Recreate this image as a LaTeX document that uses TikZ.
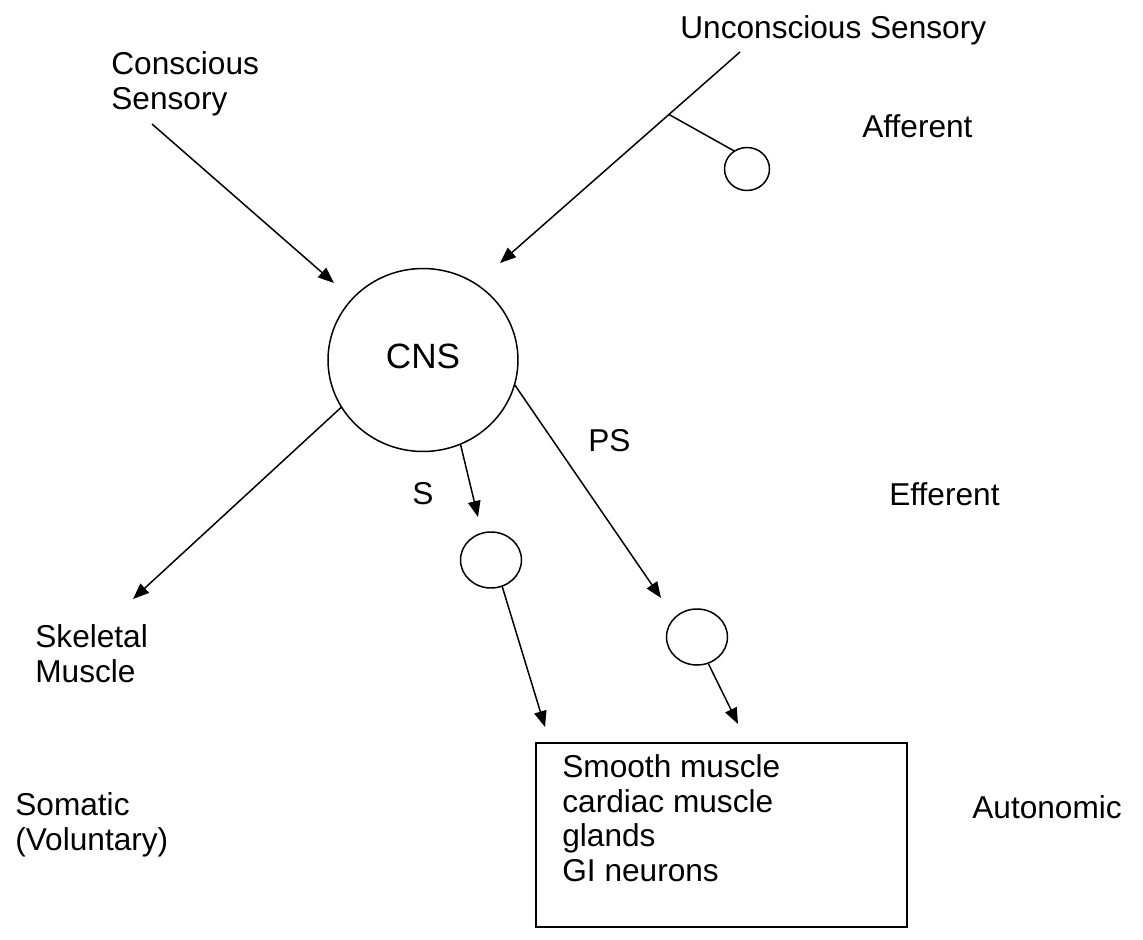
\documentclass[tikz,border=0pt]{standalone}
\usepackage{fontspec}
\setmainfont{Liberation Sans}
\usetikzlibrary{arrows.meta,shapes.geometric,calc}

\begin{document}
\begin{tikzpicture}%
        [x=0.02cm, y=-0.02cm,
        edge/.style={line width=0.85pt, -{Triangle[length=0.32cm,width=0.25cm]}},
        link/.style={line width=0.85pt},
        soma/.style={ellipse, draw, line width=0.85pt, inner sep=0pt, outer sep=0pt},
        target/.style={rectangle, draw, line width=0.85pt, inner sep=0pt, outer sep=0pt, minimum width=7.42cm, minimum height=3.68cm},
        lbl/.style={inner sep=0pt, align=left, font=\fontsize{18}{19.6}\selectfont}]
    %
    \useasboundingbox (0,0) rectangle (1143,940);
    %
    %% Drawing the labels (base anchor sits on the last line)
    \node[lbl, anchor=base west] (conscious) at (111,109) {Conscious\\Sensory};
    \node[lbl, anchor=base west] (unconscious) at (680,38) {Unconscious Sensory};
    \node[lbl, anchor=base west] (afferent) at (862,137) {Afferent};
    \node[lbl, anchor=base west] (efferent) at (889,505) {Efferent};
    \node[lbl, anchor=base west] (skeletal) at (35,682) {Skeletal\\Muscle};
    \node[lbl, anchor=base west] (somatic) at (15,850) {Somatic\\(Voluntary)};
    \node[lbl, anchor=base west] (autonomic) at (972,818) {Autonomic};
    \node[lbl, anchor=base west] (slabel) at (412,504) {S};
    \node[lbl, anchor=base west] (pslabel) at (588,451) {PS};
    %
    %% Drawing the cell bodies
    \node[soma, minimum width=3.8cm, minimum height=3.66cm, font=\fontsize{20}{22}\selectfont] (cns) at (423,360) {CNS\vphantom{g}};
    \node[soma, minimum width=0.9cm, minimum height=0.86cm] (dgang) at (747,169) {};
    \node[soma, minimum width=1.22cm, minimum height=1.12cm] (sgang) at (491,560) {};
    \node[soma, minimum width=1.22cm, minimum height=1.12cm] (pgang) at (697,637) {};
    %
    %% Drawing the target box
    \node[target, anchor=north west] (box) at (536,743) {};
    \node[lbl, anchor=base west] (organs) at (562,881) {Smooth muscle\\cardiac muscle\\glands\\GI neurons};
    %
    %% Coordinates of the free ends
    \coordinate (cs-start) at (152,124);
    \coordinate (cs-tip) at (334,283);
    \coordinate (us-start) at (740,52);
    \coordinate (us-tip) at (500,263);
    \coordinate (us-branch) at ($(us-start)!0.296!(us-tip)$);
    \coordinate (sk-tip) at (133,599);
    \coordinate (s-tip) at (478,517);
    \coordinate (ps-tip) at (661,598);
    \coordinate (s-out) at (545,727);
    \coordinate (ps-out) at (738,724);
    %
    %% Drawing the connections
    \draw[edge] (cs-start) -- (cs-tip);
    \draw[edge] (us-start) -- (us-tip);
    \draw[link] (us-branch) -- (dgang.125);
    \draw[edge] (cns.210) -- (sk-tip);
    \draw[edge] (cns.-66) -- (s-tip);
    \draw[edge] (cns.-15) -- (ps-tip);
    \draw[edge] (sgang.-67) -- (s-out);
    \draw[edge] (pgang.-67) -- (ps-out);
    %
\end{tikzpicture}
\end{document}
